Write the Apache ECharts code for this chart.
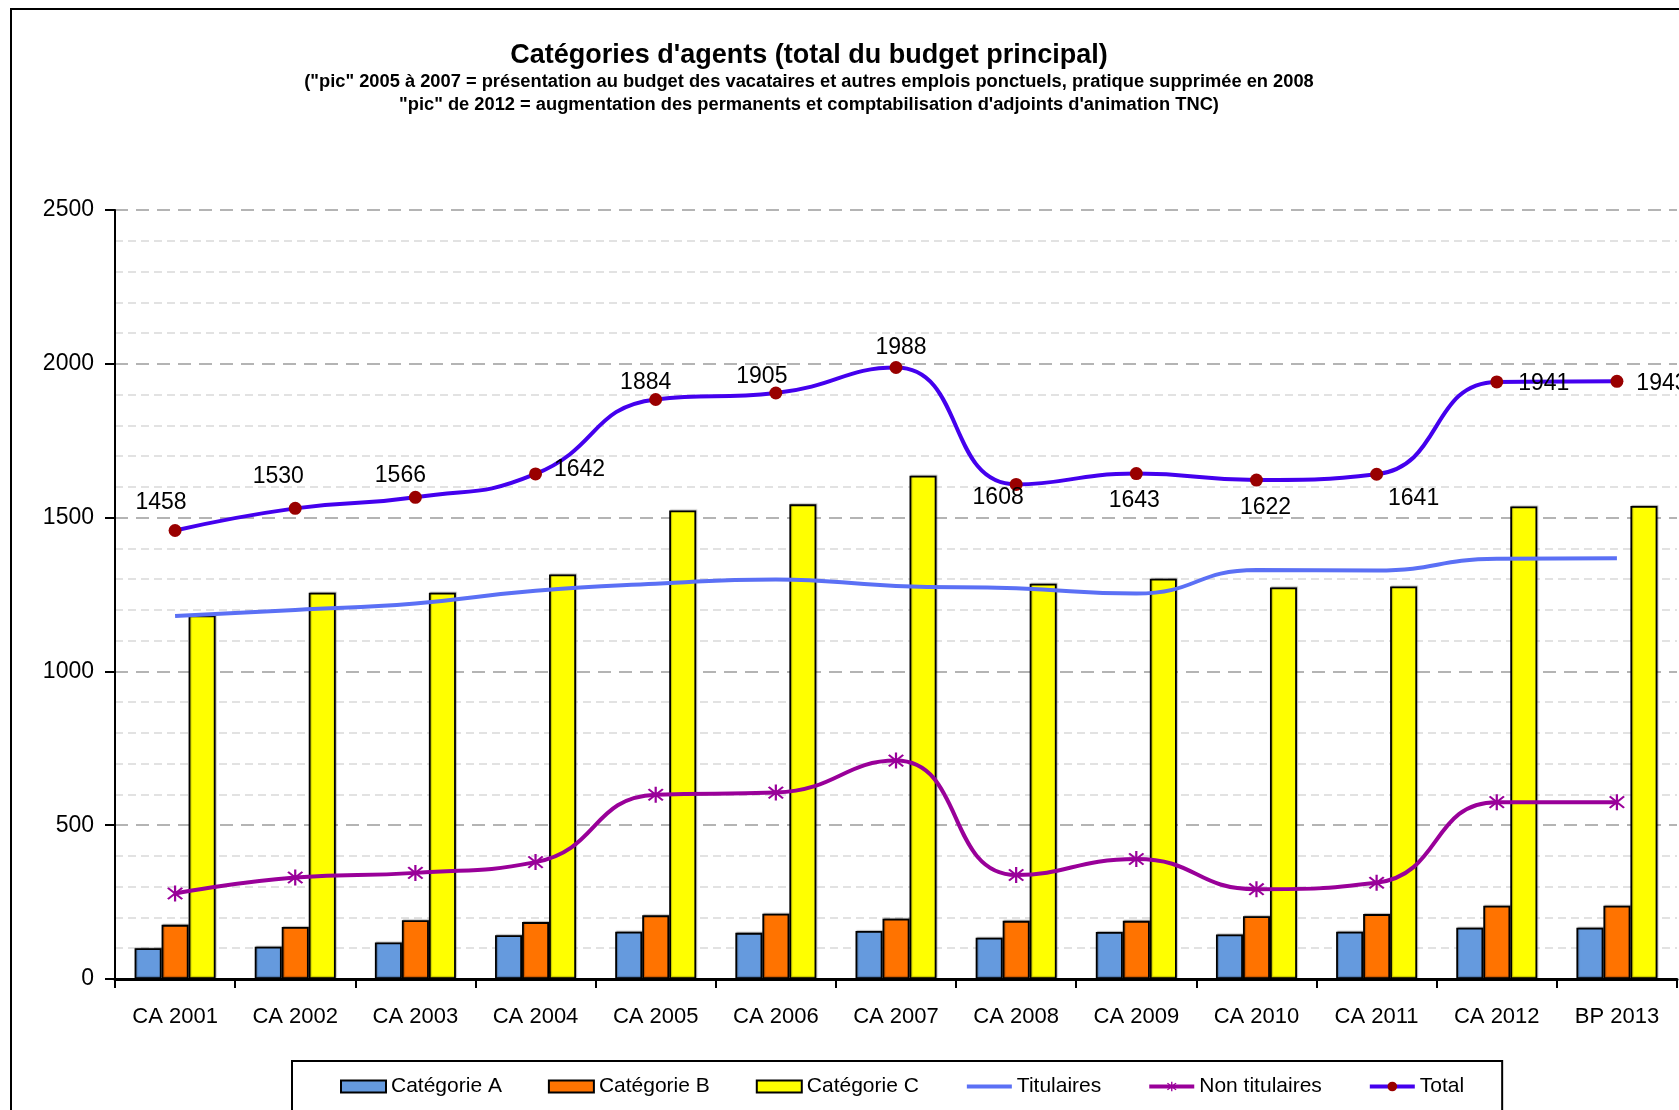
<!DOCTYPE html>
<html>
<head>
<meta charset="utf-8">
<title>Catégories d'agents</title>
<script src="https://cdn.jsdelivr.net/npm/echarts@6/dist/echarts.min.js"></script>
<style>
  html, body { margin: 0; padding: 0; background: #fff; }
  #chart { width: 1679px; height: 1110px; }
</style>
</head>
<body>
<div id="chart"></div>
<script>
// values
const years = ['CA 2001', 'CA 2002', 'CA 2003', 'CA 2004', 'CA 2005', 'CA 2006', 'CA 2007',
               'CA 2008', 'CA 2009', 'CA 2010', 'CA 2011', 'CA 2012', 'BP 2013'];
const catA = [100, 105, 119, 142, 154, 150, 156, 134, 153, 145, 154, 167, 167];
const catB = [176, 169, 191, 185, 207, 212, 196, 189, 189, 204, 211, 238, 238];
const catC = [1182, 1256, 1256, 1315, 1523, 1543, 1636, 1285, 1301, 1273, 1276, 1536, 1538];
const titulaires = [1180, 1200, 1221, 1262, 1285, 1299, 1278, 1270, 1253, 1330, 1328, 1366, 1368];
const nonTitulaires = [278, 330, 345, 380, 599, 606, 710, 338, 390, 292, 313, 575, 575];
const total = [1458, 1530, 1566, 1642, 1884, 1905, 1988, 1608, 1643, 1622, 1641, 1941, 1943];

// where each total label sits relative to its point (px)
const totalLabelOffset = [[-14, -28], [-17, -32], [-15, -22], [44, -4], [-10, -17], [-14, -16], [5, -20],
                          [-18, 13], [-2, 27], [9, 28], [37, 24], [47, 2], [45, 2]];

const font = "Arial, 'Liberation Sans', sans-serif";
const starPath = 'path://M-1.1,-10 L1.1,-10 L1.1,10 L-1.1,10 Z ' +
  'M-6.3,-7.9 L7.9,6.3 L6.3,7.9 L-7.9,-6.3 Z ' +
  'M6.3,-7.9 L7.9,-6.3 L-6.3,7.9 L-7.9,6.3 Z';

const chart = echarts.init(document.getElementById('chart'));

const barBase = {
  type: 'bar',
  barWidth: 27,
  barGap: '0%',
  itemStyle: { borderColor: '#000', borderWidth: 1.8, shadowColor: 'rgba(0,0,0,0.25)', shadowOffsetX: 1, shadowOffsetY: -1, shadowBlur: 1 }
};

chart.setOption({
  backgroundColor: '#fff',
  animation: false,
  title: [
    { text: "Catégories d'agents (total du budget principal)", left: 804, top: 37, textAlign: 'center',
      textStyle: { fontFamily: font, fontSize: 27, fontWeight: 'bold', color: '#000' } },
    { text: '("pic" 2005 à 2007 = présentation au budget des vacataires et autres emplois ponctuels, pratique supprimée en 2008',
      left: 804, top: 68, textAlign: 'center',
      textStyle: { fontFamily: font, fontSize: 18.3, fontWeight: 'bold', color: '#000' } },
    { text: '"pic" de 2012 = augmentation des permanents et comptabilisation d\'adjoints d\'animation TNC)',
      left: 804, top: 91, textAlign: 'center',
      textStyle: { fontFamily: font, fontSize: 18.3, fontWeight: 'bold', color: '#000' } }
  ],
  graphic: [
    { type: 'rect', shape: { x: 11, y: 9, width: 2000, height: 2000 },
      style: { fill: 'none', stroke: '#000', lineWidth: 2 }, silent: true }
  ],
  legend: {
    left: 292, top: 1061,
    padding: [15, 38, 15, 48],
    itemGap: 46,
    itemWidth: 45, itemHeight: 12,
    borderColor: '#000', borderWidth: 2,
    backgroundColor: '#fff',
    lineStyle: { width: 4 },
    textStyle: { fontFamily: font, fontSize: 21, color: '#000' },
    data: [
      { name: 'Catégorie A', icon: 'rect' },
      { name: 'Catégorie B', icon: 'rect' },
      { name: 'Catégorie C', icon: 'rect' },
      { name: 'Titulaires', itemStyle: { opacity: 0 } },
      'Non titulaires',
      'Total'
    ]
  },
  grid: { left: 115, right: 2, top: 210, bottom: 131 },
  xAxis: {
    type: 'category',
    data: years,
    axisLine: { lineStyle: { color: '#000', width: 3 } },
    axisTick: { show: true, length: 9, lineStyle: { color: '#000', width: 2 } },
    axisLabel: { fontFamily: font, fontSize: 22, color: '#000', margin: 27 }
  },
  yAxis: {
    type: 'value',
    min: 0, max: 2500, interval: 500,
    axisLine: { show: true, lineStyle: { color: '#000', width: 2 } },
    axisTick: { show: true, length: 10, lineStyle: { color: '#000', width: 2 } },
    axisLabel: { fontFamily: font, fontSize: 23, color: '#000', margin: 21, formatter: v => String(v) },
    splitLine: { show: true, lineStyle: { color: '#b4b4b4', width: 2, type: [13, 8] } },
    minorTick: { show: false, splitNumber: 5 },
    minorSplitLine: { show: true, lineStyle: { color: '#e2e2e2', width: 2, type: [8, 5] } }
  },
  series: [
    Object.assign({}, barBase, { name: 'Catégorie A', data: catA, itemStyle: Object.assign({}, barBase.itemStyle, { color: '#659ade' }) }),
    Object.assign({}, barBase, { name: 'Catégorie B', data: catB, itemStyle: Object.assign({}, barBase.itemStyle, { color: '#ff7300' }) }),
    Object.assign({}, barBase, { name: 'Catégorie C', data: catC, itemStyle: Object.assign({}, barBase.itemStyle, { color: '#ffff00' }) }),
    {
      name: 'Titulaires', type: 'line', data: titulaires, smooth: 0.5,
      symbol: 'none', z: 5,
      lineStyle: { color: '#5b70f5', width: 4 },
      itemStyle: { color: '#5b70f5' }
    },
    {
      name: 'Non titulaires', type: 'line', data: nonTitulaires, smooth: 0.5,
      symbol: starPath, symbolSize: 16, z: 6,
      lineStyle: { color: '#990099', width: 4 },
      itemStyle: { color: '#990099' }
    },
    {
      name: 'Total', type: 'line', smooth: 0.5, z: 7,
      symbol: 'circle', symbolSize: 13,
      lineStyle: { color: '#4400ee', width: 4 },
      itemStyle: { color: '#990000' },
      data: total.map((v, i) => ({
        value: v,
        label: { show: true, position: 'inside', offset: totalLabelOffset[i] }
      })),
      label: { fontFamily: font, fontSize: 23, color: '#000' }
    }
  ]
});
</script>
</body>
</html>
